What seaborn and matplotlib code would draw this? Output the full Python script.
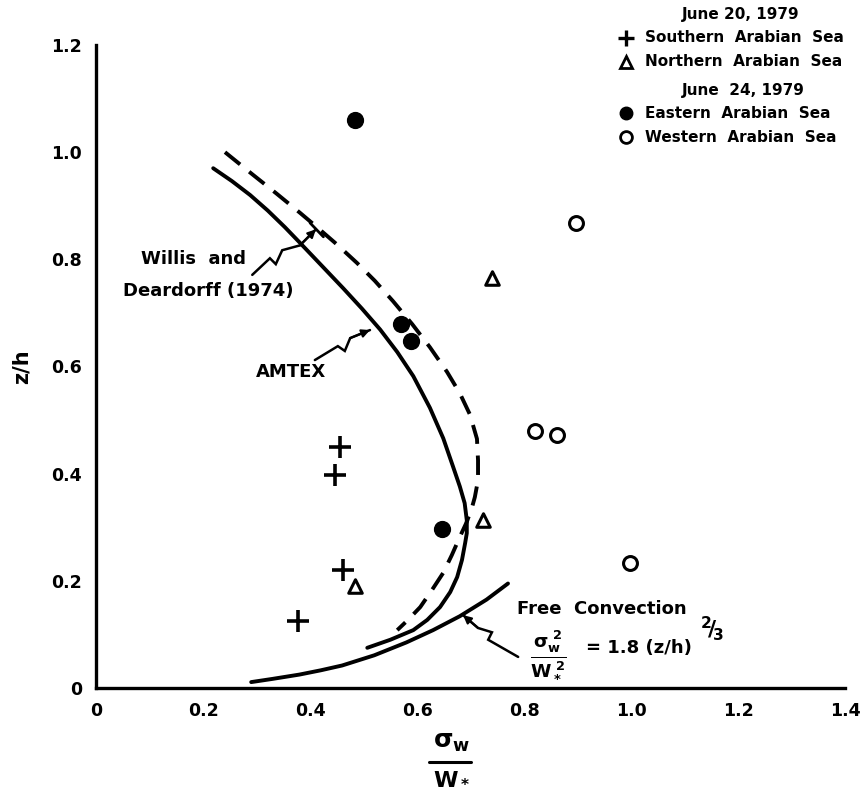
import numpy as np
import pandas as pd
import seaborn as sns
import matplotlib
matplotlib.use("Agg")
import matplotlib.pyplot as plt

# --- observations (sigma_w / w*, z/h) ---
south_x = [0.456, 0.447, 0.462, 0.378]
south_z = [0.450, 0.397, 0.220, 0.125]
north_x = [0.740, 0.723, 0.484]
north_z = [0.765, 0.313, 0.190]
east_x = [0.484, 0.570, 0.589, 0.647]
east_z = [1.060, 0.679, 0.647, 0.297]
west_x = [0.897, 0.821, 0.862, 0.998]
west_z = [0.868, 0.479, 0.472, 0.233]

# --- reference profiles ---
amtex_x = [0.219, 0.254, 0.288, 0.321, 0.353, 0.381, 0.422, 0.462, 0.497,
           0.531, 0.563, 0.593, 0.624, 0.649, 0.667, 0.680, 0.689, 0.693,
           0.693, 0.690, 0.684, 0.675, 0.662, 0.643, 0.619, 0.593, 0.550,
           0.507]
amtex_z = [0.970, 0.946, 0.920, 0.891, 0.860, 0.831, 0.788, 0.746, 0.708,
           0.669, 0.627, 0.582, 0.523, 0.466, 0.414, 0.376, 0.345, 0.313,
           0.289, 0.271, 0.239, 0.207, 0.179, 0.151, 0.127, 0.108, 0.090,
           0.075]
wd_x = [0.241, 0.293, 0.337, 0.381, 0.413, 0.450, 0.488, 0.521, 0.555,
        0.591, 0.624, 0.656, 0.680, 0.699, 0.712, 0.714, 0.714, 0.708,
        0.703, 0.693, 0.680, 0.665, 0.649, 0.628, 0.606, 0.583, 0.563]
wd_z = [1.000, 0.958, 0.923, 0.887, 0.860, 0.828, 0.793, 0.760, 0.722,
        0.679, 0.636, 0.590, 0.550, 0.510, 0.465, 0.425, 0.388, 0.356,
        0.338, 0.310, 0.282, 0.248, 0.215, 0.183, 0.151, 0.127, 0.108]
fc_x = [0.290, 0.330, 0.380, 0.420, 0.460, 0.520, 0.580, 0.630, 0.680,
        0.730, 0.770]
fc_z = [0.011, 0.017, 0.025, 0.033, 0.042, 0.061, 0.085, 0.108, 0.134,
        0.165, 0.195]

xticks = [0, 0.2, 0.4, 0.6, 0.8, 1.0, 1.2, 1.4]
xticklabels = ["0", "0.2", "0.4", "0.6", "0.8", "1.0", "1.2", "1.4"]
yticks = [0, 0.2, 0.4, 0.6, 0.8, 1.0, 1.2]
yticklabels = ["0", "0.2", "0.4", "0.6", "0.8", "1.0", "1.2"]

sns.set_style("white")
plt.rcParams["font.family"] = ["DejaVu Sans"]
plt.rcParams["font.weight"] = "bold"
plt.rcParams["text.color"] = "black"

fig = plt.figure(figsize=(8.66, 7.95), dpi=100)
ax = fig.add_axes([0.1109, 0.1346, 0.8649, 0.8088])

K = "black"
LW = 2.8

sns.lineplot(x=amtex_x, y=amtex_z, sort=False, estimator=None, ax=ax,
             color=K, lw=LW, solid_capstyle="round", solid_joinstyle="round")
sns.lineplot(x=wd_x, y=wd_z, sort=False, estimator=None, ax=ax,
             color=K, lw=LW, dash_capstyle="butt")
ax.lines[-1].set_dashes([5, 3])
sns.lineplot(x=fc_x, y=fc_z, sort=False, estimator=None, ax=ax,
             color=K, lw=LW, solid_capstyle="round", solid_joinstyle="round")

sns.scatterplot(x=south_x, y=south_z, marker="+", s=230, linewidth=2.6,
                color=K, ax=ax, legend=False, zorder=5)
sns.scatterplot(x=north_x, y=north_z, marker="^", s=95, facecolor="white",
                edgecolor=K, linewidth=2.2, ax=ax, legend=False, zorder=5)
sns.scatterplot(x=east_x, y=east_z, marker="o", s=130, facecolor=K,
                edgecolor=K, linewidth=1, ax=ax, legend=False, zorder=5)
sns.scatterplot(x=west_x, y=west_z, marker="o", s=100, facecolor="white",
                edgecolor=K, linewidth=2.2, ax=ax, legend=False, zorder=5)

ax.set_xlim(0, 1.4)
ax.set_ylim(0, 1.2)
ax.set_xticks(xticks)
ax.set_xticklabels(xticklabels)
ax.set_yticks(yticks)
ax.set_yticklabels(yticklabels)
for s in ("top", "right"):
    ax.spines[s].set_visible(False)
for s in ("left", "bottom"):
    ax.spines[s].set_linewidth(2.4)
    ax.spines[s].set_color(K)
ax.tick_params(axis="both", direction="in", length=11, width=2.0, color=K,
               labelcolor=K, labelsize=12.5, pad=10)
for lab in ax.get_xticklabels() + ax.get_yticklabels():
    lab.set_fontweight("bold")

ax.set_ylabel("z/h", fontsize=15, fontweight="bold", labelpad=14, color=K)
ax.set_xlabel("")

def fx(px):
    return px / 866
def fy(py):
    return 1 - py / 795

# x-axis quantity written as a stacked ratio
fig.text(fx(452), fy(742), r"$\mathbf{\sigma_w}$", fontsize=18, ha="center",
         va="center", color=K)
fig.lines.append(plt.Line2D([fx(429), fx(471)], [fy(762), fy(762)],
                            transform=fig.transFigure, color=K, lw=2.2))
fig.text(fx(452), fy(778), r"$\mathbf{W_*}$", fontsize=16, ha="center",
         va="center", color=K)

# labels for the profiles
tk = dict(fontsize=13, fontweight="bold", color=K)
ax.text(0.183, 0.800, "Willis  and", ha="center", va="center", **tk)
ax.text(0.210, 0.740, "Deardorff (1974)", ha="center", va="center", **tk)
ax.text(0.365, 0.590, "AMTEX", ha="center", va="center", **tk)
ax.text(0.945, 0.148, "Free  Convection", ha="center", va="center", **tk)
ax.text(0.812, 0.063,
        r"$\mathbf{\frac{\sigma_w^{\ 2}}{W_*^{\ 2}}}$", ha="left",
        va="center", fontsize=19, color=K)
ax.text(0.915, 0.075, r"= 1.8 (z/h)", ha="left", va="center", **tk)
ax.text(1.128, 0.110, r"$\mathbf{^2\!/\!_3}$", ha="left", va="center",
        fontsize=16, color=K)

# squiggle leaders
def leader(xs, ys):
    ax.plot(xs, ys, color=K, lw=1.8, solid_joinstyle="miter")
    ax.annotate("", xy=(xs[-1], ys[-1]), xytext=(xs[-2], ys[-2]),
                arrowprops=dict(arrowstyle="-|>", color=K, lw=1.5,
                                mutation_scale=12, shrinkA=0, shrinkB=0))

leader([0.292, 0.325, 0.336, 0.348, 0.381, 0.411],
       [0.771, 0.802, 0.791, 0.817, 0.826, 0.856])
ax.plot([0.400, 0.425], [0.868, 0.842], color=K, lw=2.0)
leader([0.409, 0.452, 0.465, 0.475, 0.512],
       [0.612, 0.638, 0.629, 0.653, 0.668])
leader([0.789, 0.733, 0.740, 0.714, 0.686],
       [0.058, 0.090, 0.104, 0.112, 0.136])

# key in the upper right
fk = dict(fontsize=11, fontweight="bold", color=K, ha="left",
          va="center", transform=fig.transFigure)

fig.text(fx(682), fy(15), "June 20, 1979", **fk)
fig.text(fx(645), fy(38), "Southern  Arabian  Sea", **fk)
fig.text(fx(645), fy(62), "Northern  Arabian  Sea", **fk)
fig.text(fx(682), fy(90), "June  24, 1979", **fk)
fig.text(fx(645), fy(113), "Eastern  Arabian  Sea", **fk)
fig.text(fx(645), fy(137), "Western  Arabian  Sea", **fk)
mk = dict(transform=fig.transFigure, color=K, clip_on=False)
fig.lines.append(plt.Line2D([fx(626)], [fy(38)], marker="+", ms=12,
                            mew=2.4, **mk))
fig.lines.append(plt.Line2D([fx(626)], [fy(62)], marker="^", ms=9,
                            mew=2.0, mfc="white", **mk))
fig.lines.append(plt.Line2D([fx(626)], [fy(113)], marker="o", ms=9,
                            mew=1, mfc=K, **mk))
fig.lines.append(plt.Line2D([fx(626)], [fy(137)], marker="o", ms=8.5,
                            mew=2.0, mfc="white", **mk))

fig.savefig("out.png", dpi=100, facecolor="white")
